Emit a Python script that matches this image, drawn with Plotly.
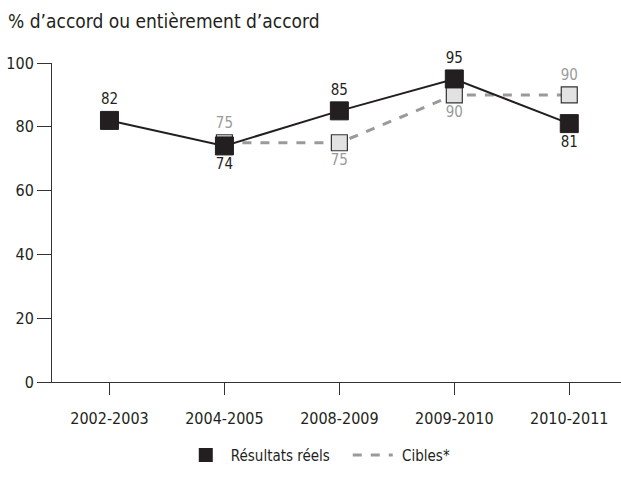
import plotly.graph_objects as go

categories = ["2002-2003", "2004-2005", "2008-2009", "2009-2010", "2010-2011"]
actual = [82, 74, 85, 95, 81]
target_cats = ["2004-2005", "2008-2009", "2009-2010", "2010-2011"]
targets = [75, 75, 90, 90]
actual_pos = ["top center", "bottom center", "top center", "top center", "bottom center"]
target_pos = ["top center", "bottom center", "bottom center", "top center"]
yticks = [0, 20, 40, 60, 80, 100]

FONT = "DejaVu Sans Condensed, Liberation Sans Narrow, sans-serif"
DARK = "#231f20"
GRAY = "#9a9a9a"
NB = "\u00a0"

fig = go.Figure()
fig.add_trace(go.Scatter(
    x=target_cats, y=targets, mode="lines+markers+text",
    line=dict(color=GRAY, width=3, dash="dash"),
    marker=dict(symbol="square", size=16, color="#e2e2e2", line=dict(color="#333333", width=1.2)),
    text=[str(v) for v in targets], textposition=target_pos,
    textfont=dict(color=GRAY, size=15, family=FONT),
    showlegend=False, cliponaxis=False,
))
fig.add_trace(go.Scatter(
    x=categories, y=actual, mode="lines+markers+text",
    line=dict(color=DARK, width=2),
    marker=dict(symbol="square", size=18, color=DARK, line=dict(color=DARK, width=1)),
    text=[str(v) for v in actual], textposition=actual_pos,
    textfont=dict(color=DARK, size=15, family=FONT),
    showlegend=False, cliponaxis=False,
))
# legend entries
fig.add_trace(go.Scatter(
    x=[None], y=[None], mode="markers", name="Résultats réels" + NB * 3,
    marker=dict(symbol="square", size=14, color=DARK),
))
fig.add_trace(go.Scatter(
    x=[None], y=[None], mode="lines", name=NB + "Cibles*",
    line=dict(color=GRAY, width=3, dash="dash"),
))

fig.update_layout(
    width=621, height=483,
    margin=dict(l=52, r=0, t=63, b=101),
    paper_bgcolor="white", plot_bgcolor="white",
    font=dict(family=FONT, color=DARK, size=15),
    title=dict(text="% d’accord ou entièrement d’accord", x=0.013, xanchor="left",
               y=0.955, yanchor="middle", font=dict(size=19, family=FONT, color=DARK)),
    xaxis=dict(
        type="category", categoryorder="array", categoryarray=categories,
        range=[-0.5, 4.45], showgrid=False, zeroline=False,
        showline=True, linecolor="#333333", linewidth=1,
        ticks="outside", ticklen=12, tickcolor="#333333", tickwidth=1,
        ticklabelstandoff=10,
        tickfont=dict(size=16, family=FONT, color=DARK),
    ),
    yaxis=dict(
        range=[0, 100], tickvals=yticks, showgrid=False, zeroline=False,
        showline=True, linecolor="#333333", linewidth=1,
        ticks="outside", ticklen=14, tickcolor="#333333", tickwidth=1,
        tickfont=dict(size=16, family=FONT, color=DARK),
    ),
    legend=dict(orientation="h", x=0.468, xanchor="center", y=-0.23, yanchor="middle",
                font=dict(size=15, family=FONT, color=DARK), itemwidth=40),
)

fig.write_html("out.html")
